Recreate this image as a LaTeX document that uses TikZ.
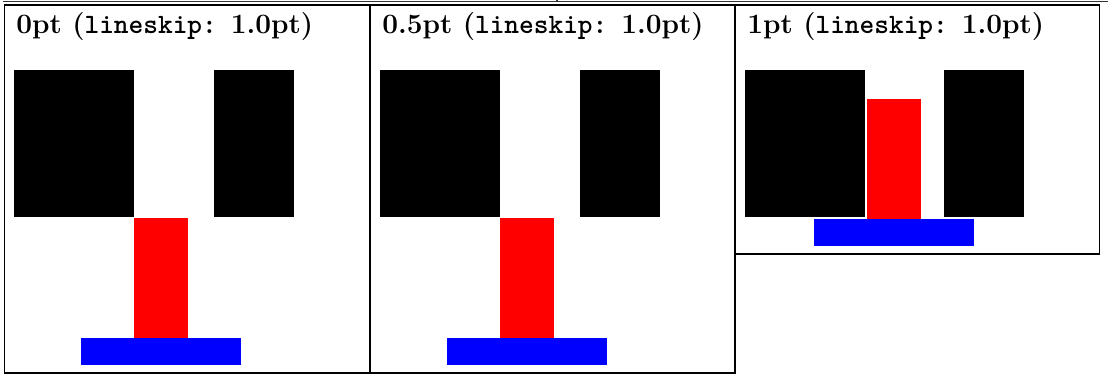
\documentclass[tikz,border=0pt]{standalone}
\usepackage{fontspec}
\setmonofont{Latin Modern Mono Light}
\begin{document}
\begin{tikzpicture}[x=0.75pt,y=-0.75pt,
  frame/.style={draw=black,line width=0.8pt},
  rule/.style={draw=black!80,line width=0.8pt},
  title/.style={anchor=base west,inner sep=0pt,font=\fontsize{21}{25}\selectfont\bfseries},
  blk/.style={fill=black},
  redbar/.style={fill=red},
  bluebar/.style={fill=blue}]
\useasboundingbox (0,0) rectangle (1108,374);
% top rule (bottom of a cut-off row)
\coordinate (tl) at (3,1.3);
\coordinate (tr) at (1108,1.3);
\coordinate (tk) at (557,0);
\coordinate (tkb) at (557,1.3);
\draw[rule] (tl) -- (tr);
\draw[rule] (tk) -- (tkb);
% panel 1
\draw[frame] (4.5,5) rectangle (369.5,373);
\node[title] (t1) at (16,33.5) {0pt (\texttt{lineskip:} 1.0pt)};
\fill[blk] (14,70) rectangle (134,217);
\fill[blk] (214,70) rectangle (294,217);
\fill[redbar] (134,218) rectangle (188,338);
\fill[bluebar] (81,338) rectangle (241,365);
% panel 2
\draw[frame] (370.5,5) rectangle (735,373);
\node[title] (t2) at (382,33.5) {0.5pt (\texttt{lineskip:} 1.0pt)};
\fill[blk] (380,70) rectangle (500,217);
\fill[blk] (580,70) rectangle (660,217);
\fill[redbar] (500,218) rectangle (554,338);
\fill[bluebar] (447,338) rectangle (607,365);
% panel 3
\draw[frame] (735.5,5) rectangle (1099.5,254);
\node[title] (t3) at (747,33.5) {1pt (\texttt{lineskip:} 1.0pt)};
\fill[blk] (745,70) rectangle (865,217);
\fill[blk] (944,70) rectangle (1024,217);
\fill[redbar] (867,99) rectangle (921,219);
\fill[bluebar] (814,219) rectangle (974,246);
\end{tikzpicture}
\end{document}
